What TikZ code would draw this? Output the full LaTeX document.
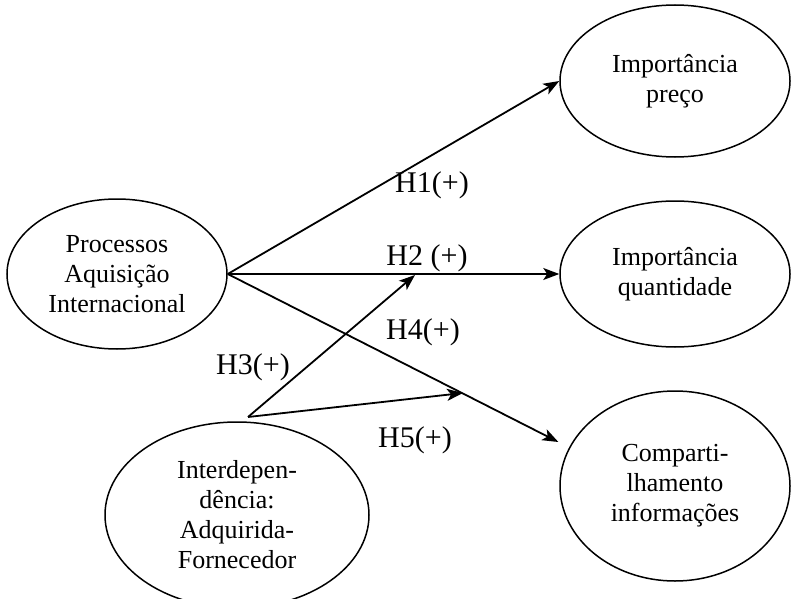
\documentclass[tikz,border=0pt]{standalone}
\usepackage{fontspec}
\setmainfont{Liberation Serif}
\usetikzlibrary{shapes.geometric,arrows.meta}

\begin{document}
\begin{tikzpicture}[x=1pt,y=-1pt,
    elipse/.style={ellipse,draw,line width=1.5pt,inner sep=0,align=center,font=\nodefontsize},
    seta/.style={line width=1.8pt,-{Stealth[length=16pt,width=12pt,inset=4pt]}},
    rotulo/.style={inner sep=0,font=\labelfontsize}]
    \pgfmathsetmacro{\direitalargura}{230}
    \pgfmathsetmacro{\direitax}{675}
    \providecommand{\nodefontsize}{\fontsize{26pt}{30pt}\selectfont}
    \providecommand{\labelfontsize}{\fontsize{30pt}{34pt}\selectfont}
    \useasboundingbox (0,0) rectangle (792,599);
    % ellipses
    \node[elipse,minimum width=220pt,minimum height=150pt] (processos) at (117,274) {Processos\\Aquisição\\Internacional};
    \node[elipse,minimum width=264pt,minimum height=186pt] (interdep) at (237,515) {Interdepen-\\dência:\\Adquirida-\\Fornecedor};
    \node[elipse,minimum width=\direitalargura pt,minimum height=152pt] (preco) at (\direitax,81) {Importância\\preço};
    \node[elipse,minimum width=\direitalargura pt,minimum height=146pt] (quantidade) at (\direitax,274) {Importância\\quantidade};
    \node[elipse,minimum width=\direitalargura pt,minimum height=190pt] (compart) at (\direitax,486) {Comparti-\\lhamento\\informações};
    % free ends
    \coordinate (origem) at (248,417);
    \coordinate (fimtres) at (415,275);
    \coordinate (fimcinco) at (463,393);
    % arrows
    \draw[seta] (processos.east) -- (preco.west);
    \draw[seta] (processos.east) -- (quantidade.west);
    \draw[seta,shorten >=12pt] (processos.east) -- (compart.160);
    \draw[seta] (origem) -- (fimtres);
    \draw[seta] (origem) -- (fimcinco);
    % labels
    \node[rotulo] (hum) at (432,185) {H1(+)};
    \node[rotulo] (hdois) at (427,258) {H2 (+)};
    \node[rotulo] (hquatro) at (423,332) {H4(+)};
    \node[rotulo] (htres) at (253,367) {H3(+)};
    \node[rotulo] (hcinco) at (415,440) {H5(+)};
\end{tikzpicture}
\end{document}
